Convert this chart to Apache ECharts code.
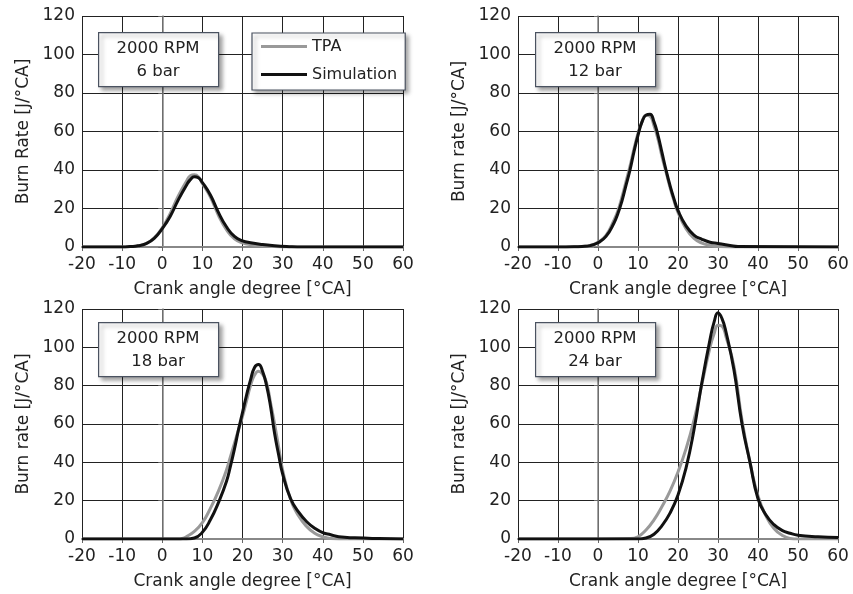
<!DOCTYPE html>
<html>
<head>
<meta charset="utf-8">
<script src="https://cdn.jsdelivr.net/npm/echarts@6/dist/echarts.min.js"></script>
<style>
  html, body { margin: 0; padding: 0; background: #fff; }
  #chart { width: 853px; height: 594px; }
</style>
</head>
<body>
<div id="chart"></div>
<script>
// crank angle [°CA] and burn rate [J/°CA]
var x6 = [-20, -10, -8, -6, -4, -2, 0, 2, 4, 6, 7, 8, 9, 10, 12, 14, 16, 18, 20, 22, 25, 28, 31, 35, 60];
var tpa6 = [0, 0, 0.2, 0.6, 1.8, 4.8, 10, 17.5, 26.5, 34, 37, 37.5, 36.5, 33, 26, 16.5, 9, 4.2, 2.2, 1.3, 0.6, 0.2, 0, 0, 0];
var sim6 = [0, 0, 0.2, 0.6, 1.8, 4.5, 9.5, 16, 24.5, 32, 35, 36.5, 36, 33.5, 27, 18, 10.5, 5.5, 3.2, 2.2, 1.3, 0.7, 0.3, 0, 0];

var x12 = [-20, -10, -6, -4, -2, 0, 2, 4, 5, 6, 7, 8, 9, 10, 11, 12, 13, 14, 15, 16, 17, 18, 19, 20, 22, 24, 26, 28, 30, 33, 35, 60];
var tpa12 = [0, 0, 0.1, 0.3, 0.8, 2.5, 6, 14, 19, 26, 34, 42, 51, 59, 65, 68.5, 68, 63, 56, 47, 39, 31, 24, 18, 9.5, 4.5, 2, 0.9, 0.3, 0, 0, 0];
var sim12 = [0, 0, 0.1, 0.3, 0.7, 2.2, 5.5, 12.5, 17.5, 24, 32, 40, 49.5, 58, 65, 68.5, 69, 65, 58, 49, 40, 32, 25, 19, 11, 6.2, 4, 2.5, 1.8, 0.8, 0.2, 0];

var x18 = [-20, 0, 4, 5, 6, 8, 10, 12, 14, 16, 17, 18, 19, 20, 21, 22, 23, 24, 25, 26, 27, 28, 29, 30, 32, 34, 36, 38, 40, 42, 44, 48, 54, 60];
var tpa18 = [0, 0, 0, 0.3, 1.2, 4, 8.5, 16, 25, 36, 43, 50, 57, 64, 72, 80, 85.5, 87.5, 86, 81.5, 71, 60, 48, 36, 20.5, 12, 6.5, 3, 1.2, 0.2, 0, 0, 0, 0];
var sim18 = [0, 0, 0, 0, 0, 0.5, 3.5, 10, 19, 30, 38, 47, 57, 66, 75, 83, 89.5, 91, 87.5, 80, 69, 55, 44, 34, 21, 14, 9, 5.6, 3.3, 2.2, 1.2, 0.6, 0.2, 0];

var x24 = [-20, 0, 8, 10, 12, 14, 16, 18, 20, 22, 24, 26, 28, 29, 30, 31, 32, 34, 36, 38, 40, 42, 44, 46, 48, 50, 55, 60];
var tpa24 = [0, 0, 0.2, 1.2, 4.7, 10, 17, 25, 35, 47, 62, 81, 100, 107, 111.5, 111, 105.5, 90, 62, 40, 22.5, 12, 5.5, 2, 0.3, 0, 0, 0];
var sim24 = [0, 0, 0, 0, 0.5, 2.5, 7, 13.5, 23, 37, 57, 82, 104, 113, 118, 115, 108, 88, 60, 40, 21, 12.5, 7.5, 4.5, 3, 2, 1.2, 0.8];

var xTicks = { min: -20, max: 60, interval: 10 };
var yTicks = { min: 0, max: 120, interval: 20 };
var panels = [
  { x: x6, tpa: tpa6, sim: sim6, load: '6 bar', yName: 'Burn Rate [J/°CA]' },
  { x: x12, tpa: tpa12, sim: sim12, load: '12 bar', yName: 'Burn rate [J/°CA]' },
  { x: x18, tpa: tpa18, sim: sim18, load: '18 bar', yName: 'Burn rate [J/°CA]' },
  { x: x24, tpa: tpa24, sim: sim24, load: '24 bar', yName: 'Burn rate [J/°CA]' }
];

var FONT = 'DejaVu Sans';
var FS = 17;
var TXT = '#222';
var grids = [
  { left: 82, top: 16, width: 321, height: 231 },
  { left: 518, top: 16, width: 320, height: 231 },
  { left: 82, top: 309, width: 321, height: 230 },
  { left: 518, top: 309, width: 320, height: 230 }
];
var boxes = [[98, 32], [535, 32], [98, 322], [535, 322]];

function zip(xs, ys) {
  return xs.map(function (v, i) { return [v, ys[i]]; });
}

var xAxes = [], yAxes = [], series = [], graphics = [];
panels.forEach(function (p, i) {
  xAxes.push({
    type: 'value', gridIndex: i,
    min: xTicks.min, max: xTicks.max, interval: xTicks.interval,
    name: 'Crank angle degree [°CA]', nameLocation: 'middle', nameGap: 34,
    nameTextStyle: { fontFamily: FONT, fontSize: FS, color: TXT },
    axisLine: { lineStyle: { color: '#888', width: 2 } },
    axisTick: { show: true, length: 4, lineStyle: { color: '#666' } },
    axisLabel: { fontFamily: FONT, fontSize: FS, color: TXT, margin: 9 },
    splitLine: { show: true, lineStyle: { color: '#222', width: 1 } }
  });
  yAxes.push({
    type: 'value', gridIndex: i,
    min: yTicks.min, max: yTicks.max, interval: yTicks.interval,
    name: p.yName, nameLocation: 'middle', nameGap: 50,
    nameTextStyle: { fontFamily: FONT, fontSize: FS, color: TXT },
    axisLine: { show: true, lineStyle: { color: '#888', width: 1.5 } },
    axisTick: { show: true, length: 4, lineStyle: { color: '#666' } },
    axisLabel: { fontFamily: FONT, fontSize: FS, color: TXT, margin: 7 },
    splitLine: { show: true, lineStyle: { color: '#222', width: 1 } }
  });
  series.push({
    name: 'TPA', type: 'line', xAxisIndex: i, yAxisIndex: i,
    data: zip(p.x, p.tpa), smooth: 0.5, showSymbol: false, symbol: 'none',
    lineStyle: { color: '#999', width: 3 }, itemStyle: { color: '#999' }, z: 3
  });
  series.push({
    name: 'Simulation', type: 'line', xAxisIndex: i, yAxisIndex: i,
    data: zip(p.x, p.sim), smooth: 0.5, showSymbol: false, symbol: 'none',
    lineStyle: { color: '#111', width: 3 }, itemStyle: { color: '#111' }, z: 4
  });
  var b = boxes[i];
  graphics.push({
    type: 'rect', left: b[0], top: b[1], z: 10,
    shape: { width: 120, height: 54 },
    style: { fill: '#fff', stroke: '#4a5260', lineWidth: 1.2,
      shadowBlur: 4, shadowOffsetX: 3, shadowOffsetY: 3, shadowColor: 'rgba(0,0,0,0.35)' }
  });
  graphics.push({
    type: 'text', x: b[0] + 60, y: b[1] + 28, z: 11,
    style: { text: '2000 RPM\n' + p.load, fontFamily: FONT, fontSize: 16.5, fill: TXT,
      align: 'center', verticalAlign: 'middle', lineHeight: 23 }
  });
});

var chart = echarts.init(document.getElementById('chart'));
chart.setOption({
  animation: false,
  backgroundColor: '#fff',
  grid: grids,
  xAxis: xAxes,
  yAxis: yAxes,
  series: series,
  legend: {
    data: ['TPA', 'Simulation'],
    orient: 'vertical', left: 252, top: 33,
    icon: 'rect', itemWidth: 46, itemHeight: 3,
    padding: [4, 8, 6, 9], itemGap: 9,
    backgroundColor: '#fff', borderColor: '#4a5260', borderWidth: 1.2,
    shadowBlur: 4, shadowOffsetX: 3, shadowOffsetY: 3, shadowColor: 'rgba(0,0,0,0.35)',
    textStyle: { fontFamily: FONT, fontSize: 16, color: TXT, lineHeight: 19 },
    z: 10
  },
  graphic: graphics
});
window.addEventListener('resize', function () {
  chart.resize();
});
</script>
</body>
</html>
